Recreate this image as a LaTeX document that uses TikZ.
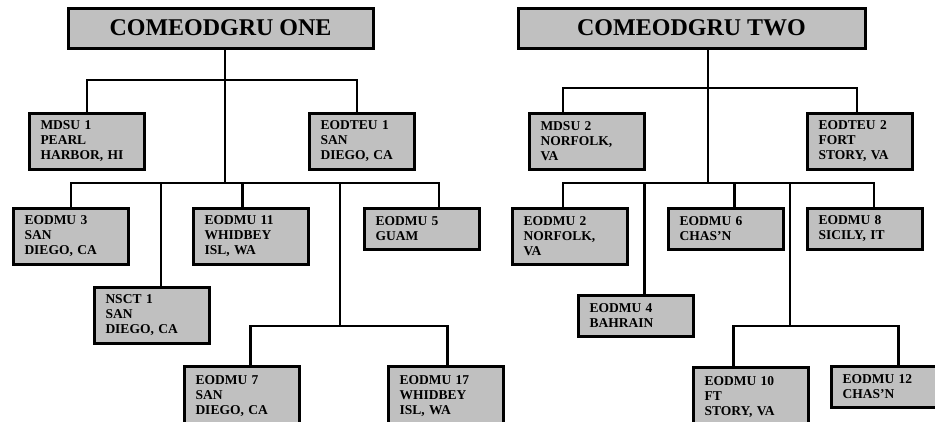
\documentclass[tikz,border=0pt]{standalone}
\usepackage{fontspec}
\setmainfont{Liberation Serif}
\usepackage{tikz}

\definecolor{boxgray}{RGB}{192,192,192}

\tikzset{
	unit/.style={draw,line width=3pt,fill=boxgray,anchor=north west,
		minimum height=56pt,text width=93pt,inner xsep=11pt,inner ysep=0pt,
		align=left,font=\bfseries\fontsize{13.5}{15}\selectfont},
	short/.style={unit,minimum height=41pt},
	low/.style={unit,minimum height=60pt},
	narrow/.style={text width=83pt},
	group/.style={draw,line width=3pt,fill=boxgray,minimum height=40pt,
		inner sep=0pt,font=\bfseries\fontsize{24}{26}\selectfont}
}

\begin{document}
\begin{tikzpicture}[x=1pt,y=-1pt,line width=2.3pt]

	\useasboundingbox (0,0) rectangle (935,421);

	% COMEODGRU ONE
	\node[group,minimum width=305pt] (one) at (220.5,28)	{COMEODGRU ONE};
	\node[unit] (mdsu1) at (28,112)				{MDSU 1\\PEARL\\HARBOR, HI};
	\node[unit,narrow] (eodteu1) at (308,112)		{EODTEU 1\\SAN\\DIEGO, CA};
	\node[unit] (eodmu3) at (12,207)				{EODMU 3\\SAN\\DIEGO, CA};
	\node[unit] (eodmu11) at (192,207)			{EODMU 11\\WHIDBEY\\ISL, WA};
	\node[short] (eodmu5) at (363,207)			{EODMU 5\\GUAM};
	\node[unit] (nsct1) at (93,286)				{NSCT 1\\SAN\\DIEGO, CA};
	\node[low] (eodmu7) at (183,365)				{EODMU 7\\SAN\\DIEGO, CA};
	\node[low] (eodmu17) at (387,365)				{EODMU 17\\WHIDBEY\\ISL, WA};

	\coordinate (t1) at (225,80);
	\coordinate (b1) at (225,183);
	\coordinate (s1) at (340,326);

	\draw (one.south -| b1) -- (b1);
	\draw (mdsu1.north) |- (t1);
	\draw ([xshift=-5pt]eodteu1.north) |- (t1);
	\draw (eodmu3.north) |- (b1);
	\draw ([xshift=9pt]nsct1.north) |- (b1);
	\draw ([xshift=-8.5pt]eodmu11.north) |- (b1);
	\draw ([xshift=17pt]eodmu5.north) |- (b1);
	\draw (s1) |- (b1);
	\draw ([xshift=8.5pt]eodmu7.north) |- (s1);
	\draw ([xshift=1.5pt]eodmu17.north) |- (s1);

	% COMEODGRU TWO
	\node[group,minimum width=347pt] (two) at (691.5,28)	{COMEODGRU TWO};
	\node[unit] (mdsu2) at (528,112)				{MDSU 2\\NORFOLK,\\VA};
	\node[unit,narrow] (eodteu2) at (806,112)		{EODTEU 2\\FORT\\STORY, VA};
	\node[unit] (eodmu2) at (511,207)				{EODMU 2\\NORFOLK,\\VA};
	\node[short] (eodmu6) at (667,207)			{EODMU 6\\CHAS’N};
	\node[short] (eodmu8) at (806,207)			{EODMU 8\\SICILY, IT};
	\node[short] (eodmu4) at (577,294)			{EODMU 4\\BAHRAIN};
	\node[low] (eodmu10) at (692,366)				{EODMU 10\\FT\\STORY, VA};
	\node[short] (eodmu12) at (830,365)			{EODMU 12\\CHAS’N};

	\coordinate (t2) at (708,88);
	\coordinate (b2) at (708,183);
	\coordinate (s2) at (790,326);

	\draw (two.south -| b2) -- (b2);
	\draw ([xshift=-24pt]mdsu2.north) |- (t2);
	\draw ([xshift=-3pt]eodteu2.north) |- (t2);
	\draw ([xshift=-7pt]eodmu2.north) |- (b2);
	\draw ([xshift=8.5pt]eodmu4.north) |- (b2);
	\draw ([xshift=8.5pt]eodmu6.north) |- (b2);
	\draw ([xshift=9pt]eodmu8.north) |- (b2);
	\draw (s2) |- (b2);
	\draw ([xshift=-17.5pt]eodmu10.north) |- (s2);
	\draw ([xshift=9.5pt]eodmu12.north) |- (s2);

\end{tikzpicture}
\end{document}
